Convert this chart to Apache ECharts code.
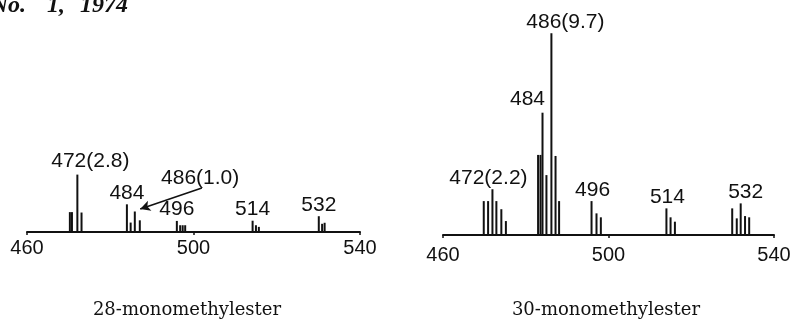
<!DOCTYPE html>
<html><head><meta charset="utf-8">
<script src="https://cdn.jsdelivr.net/npm/echarts@6/dist/echarts.min.js"></script>
<style>html,body{margin:0;padding:0;background:#fff}#c{width:794px;height:325px}</style>
</head><body><div id="c"></div>
<script>
// ---- data (m/z positions as drawn, relative intensities) ----
const axisTicks = [460, 500, 540];

const leftMz        = [470.3, 470.8, 472.1, 473.1, 484.0, 484.9, 485.9, 487.1, 496.0, 496.8, 497.4, 498.0, 514.2, 515.0, 515.7, 530.1, 530.9, 531.5];
const leftIntensity = [0.97,  0.97,  2.8,   0.95,  1.35,  0.46,  1.0,   0.57,  0.54,  0.33,  0.33,  0.33,  0.55,  0.33,  0.25,  0.77,  0.4,   0.45];
const leftLabelText = ['472(2.8)', '484', '496', '514', '532'];
const leftLabelMz   = [472.1, 484.0, 496.0, 514.2, 530.1];
const leftNote      = '486(1.0)';
const leftNoteAt    = [501.6, 2.6];           // text anchor (m/z, intensity)
const leftArrow     = [[502.0, 2.15], [487.2, 1.12]];

const rightMz        = [469.85, 470.9, 471.95, 472.9, 474.1, 475.2, 482.98, 483.56, 484.05, 485.0, 486.2, 487.2, 488.06, 495.9, 497.1, 498.15, 514.0, 515.0, 516.05, 529.9, 531.0, 531.95, 533.0, 534.0];
const rightIntensity = [1.63,  1.63,  2.2,    1.63,  1.24,  0.67,  3.85,   3.85,   5.88,   2.88,  9.7,   3.8,   1.63,   1.63,  1.04,  0.85,   1.28,  0.85,  0.64,   1.28,  0.8,   1.52,   0.91,  0.85];
const rightLabelText = ['472(2.2)', '484', '486(9.7)', '496', '514', '532'];
const rightLabelMz   = [471.95, 484.05, 486.2, 495.9, 514.0, 531.95];

const captions = ['28-monomethylester', '30-monomethylester'];
const header = ['No.', '1,', '1974'];

// ---- styling ----
const labelFont = {fontFamily: 'Liberation Sans', fontSize: 21, color: '#111'};
const leftOffsets  = {'472(2.8)': [13, -2], '484': [0, 0], '496': [0, 0], '514': [0, 0], '532': [0, 0]};
const rightOffsets = {'472(2.2)': [-4, 0], '484': [-15, -2], '486(9.7)': [14, 0], '496': [1, 1], '514': [1, 0], '532': [5, 0]};

function buildData(mz, inten, labMz, labText, offsets) {
  return mz.map((m, i) => {
    const k = labMz.indexOf(m);
    const item = {value: [m, inten[i]]};
    if (k >= 0) {
      item.label = Object.assign({show: true, position: 'top', distance: 1,
        formatter: labText[k], offset: offsets[labText[k]]}, labelFont);
    }
    return item;
  });
}

const chart = echarts.init(document.getElementById('c'), null, {renderer: 'canvas'});
const xAxisBase = {
  type: 'value', min: 460, max: 540, interval: 40,
  axisLine: {show: true, lineStyle: {color: '#111', width: 2}},
  axisTick: {show: true, length: 3, lineStyle: {color: '#111', width: 1.5}},
  splitLine: {show: false},
  axisLabel: Object.assign({margin: 6, formatter: v => axisTicks.includes(v) ? String(v) : ''}, labelFont, {fontSize: 20})
};
const yAxisBase = {type: 'value', min: 0, max: 10, show: false, splitLine: {show: false}};
const headFont = 'italic bold 24px "Liberation Serif"';

chart.setOption({
  animation: false,
  backgroundColor: '#fff',
  grid: [
    {left: 27, width: 333, top: 27, bottom: 93},
    {left: 443, width: 331, top: 27, bottom: 90}
  ],
  xAxis: [
    Object.assign({gridIndex: 0}, xAxisBase),
    Object.assign({gridIndex: 1}, xAxisBase, {axisLabel: Object.assign({}, xAxisBase.axisLabel, {margin: 10})})
  ],
  yAxis: [Object.assign({gridIndex: 0}, yAxisBase), Object.assign({gridIndex: 1}, yAxisBase)],
  series: [
    {type: 'bar', xAxisIndex: 0, yAxisIndex: 0, barWidth: 2, itemStyle: {color: '#111'},
     data: buildData(leftMz, leftIntensity, leftLabelMz, leftLabelText, leftOffsets),
     markLine: {silent: true, symbol: ['none', 'arrow'], symbolSize: [8, 10],
       lineStyle: {color: '#111', width: 1.6, type: 'solid'}, label: {show: false},
       data: [[{coord: leftArrow[0]}, {coord: leftArrow[1]}]]}},
    {type: 'scatter', xAxisIndex: 0, yAxisIndex: 0, symbolSize: 1,
     itemStyle: {color: 'rgba(0,0,0,0)', opacity: 1},
     data: [leftNoteAt],
     label: Object.assign({show: true, position: 'inside', formatter: leftNote, opacity: 1}, labelFont)},
    {type: 'bar', xAxisIndex: 1, yAxisIndex: 1, barWidth: 2, itemStyle: {color: '#111'},
     data: buildData(rightMz, rightIntensity, rightLabelMz, rightLabelText, rightOffsets)}
  ],
  graphic: [
    {type: 'text', x: 26, y: 18, style: {text: header[0], font: headFont, fill: '#111', textAlign: 'right', textVerticalAlign: 'bottom'}},
    {type: 'text', x: 47, y: 18, style: {text: header[1], font: headFont, fill: '#111', textVerticalAlign: 'bottom'}},
    {type: 'text', x: 80, y: 18, style: {text: header[2], font: headFont, fill: '#111', textVerticalAlign: 'bottom'}},
    {type: 'text', x: 187, y: 319, style: {text: captions[0], font: '18px "DejaVu Serif"', fill: '#111', textAlign: 'center', textVerticalAlign: 'bottom'}},
    {type: 'text', x: 606, y: 319, style: {text: captions[1], font: '18px "DejaVu Serif"', fill: '#111', textAlign: 'center', textVerticalAlign: 'bottom'}}
  ]
});
</script></body></html>
